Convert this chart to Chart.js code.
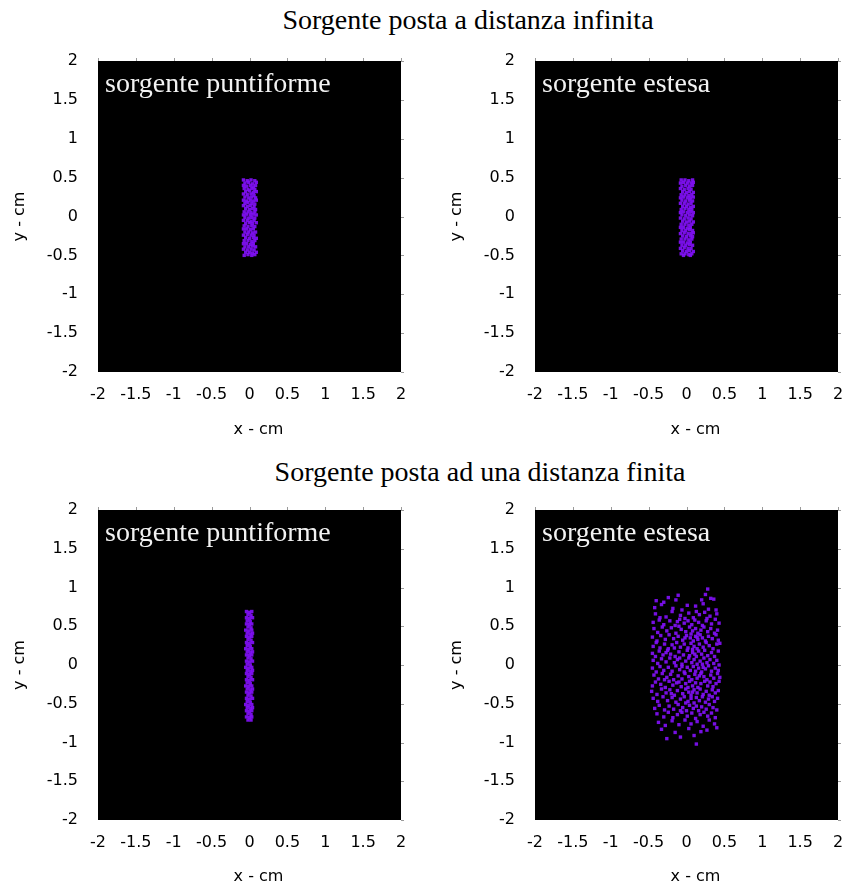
<!DOCTYPE html>
<html><head><meta charset="utf-8">
<script src="https://cdn.jsdelivr.net/npm/chart.js@4"></script>
<style>
body{margin:0;background:#fff;width:845px;height:888px;position:relative;overflow:hidden}
canvas{position:absolute}
.title{position:absolute;font-family:"Liberation Serif","DejaVu Serif",serif;font-size:28px;line-height:30px;color:#000;white-space:nowrap;transform:translateX(-50%)}
</style></head><body>
<div class="title" style="left:468px;top:5px">Sorgente posta a distanza infinita</div>
<div class="title" style="left:480px;top:457px">Sorgente posta ad una distanza finita</div>
<canvas id="c1" width="408" height="405" style="left:0;top:40px"></canvas>
<canvas id="c2" width="408" height="405" style="left:437px;top:40px"></canvas>
<canvas id="c3" width="408" height="399" style="left:0;top:489px"></canvas>
<canvas id="c4" width="408" height="399" style="left:437px;top:489px"></canvas>
<script>
const axisTicks = [-2, -1.5, -1, -0.5, 0, 0.5, 1, 1.5, 2];
const xTitle = 'x - cm';
const yTitle = 'y - cm';
const panelLabels = ['sorgente puntiforme', 'sorgente estesa', 'sorgente puntiforme', 'sorgente estesa'];

// Sorgente a distanza infinita, sorgente puntiforme
const infPoint = [
[-0.08,0.47],[-0.03,0.46],[0.02,0.47],[0.07,0.46],
[-0.06,0.43],[-0.01,0.44],[0.04,0.42],[0.09,0.44],
[-0.08,0.40],[-0.04,0.39],[0.01,0.40],[0.05,0.38],[0.08,0.40],
[-0.07,0.36],[-0.02,0.35],[0.03,0.36],[0.07,0.35],
[-0.05,0.32],[0.00,0.33],[0.05,0.31],[0.09,0.32],
[-0.08,0.29],[-0.03,0.28],[0.02,0.29],[0.06,0.27],
[-0.06,0.25],[-0.01,0.24],[0.03,0.25],[0.08,0.24],
[-0.08,0.21],[-0.04,0.20],[0.01,0.21],[0.05,0.20],[0.09,0.21],
[-0.06,0.17],[-0.02,0.18],[0.03,0.17],[0.07,0.16],
[-0.08,0.14],[-0.03,0.13],[0.01,0.14],[0.06,0.13],
[-0.05,0.10],[0.00,0.09],[0.04,0.10],[0.08,0.09],
[-0.07,0.06],[-0.02,0.06],[0.02,0.05],[0.07,0.06],
[-0.08,0.02],[-0.04,0.03],[0.01,0.02],[0.05,0.03],[0.09,0.02],
[-0.06,-0.01],[-0.01,-0.02],[0.03,-0.01],[0.07,-0.02],
[-0.08,-0.05],[-0.03,-0.05],[0.02,-0.06],[0.06,-0.05],
[-0.05,-0.09],[0.00,-0.08],[0.04,-0.09],[0.09,-0.08],
[-0.07,-0.12],[-0.02,-0.13],[0.03,-0.12],[0.07,-0.13],
[-0.08,-0.16],[-0.04,-0.16],[0.01,-0.17],[0.05,-0.16],
[-0.06,-0.20],[-0.01,-0.20],[0.04,-0.21],[0.08,-0.20],
[-0.08,-0.24],[-0.03,-0.23],[0.02,-0.24],[0.06,-0.24],
[-0.05,-0.27],[0.00,-0.28],[0.05,-0.27],[0.09,-0.28],
[-0.07,-0.31],[-0.02,-0.31],[0.03,-0.32],[0.07,-0.31],
[-0.08,-0.35],[-0.04,-0.35],[0.01,-0.36],[0.05,-0.35],
[-0.06,-0.39],[-0.01,-0.39],[0.04,-0.38],[0.08,-0.39],
[-0.08,-0.42],[-0.03,-0.43],[0.02,-0.42],[0.06,-0.43],
[-0.05,-0.46],[0.00,-0.46],[0.04,-0.47],[0.09,-0.46],
[-0.07,-0.50],[-0.02,-0.49],[0.03,-0.50],[0.07,-0.49]
];

// Sorgente a distanza infinita, sorgente estesa
const infExtended = [
[-0.07,0.47],[-0.02,0.47],[0.03,0.46],[0.08,0.47],
[-0.08,0.43],[-0.04,0.44],[0.01,0.43],[0.06,0.43],[0.09,0.44],
[-0.06,0.39],[-0.01,0.40],[0.04,0.39],[0.08,0.40],
[-0.08,0.36],[-0.03,0.35],[0.02,0.36],[0.06,0.35],
[-0.05,0.32],[0.00,0.31],[0.04,0.32],[0.09,0.31],
[-0.07,0.28],[-0.02,0.28],[0.03,0.27],[0.07,0.28],
[-0.08,0.24],[-0.04,0.25],[0.01,0.24],[0.05,0.24],[0.09,0.25],
[-0.06,0.21],[-0.01,0.20],[0.04,0.21],[0.08,0.20],
[-0.08,0.17],[-0.03,0.17],[0.02,0.16],[0.06,0.17],
[-0.05,0.13],[0.00,0.13],[0.05,0.12],[0.09,0.13],
[-0.07,0.09],[-0.02,0.10],[0.03,0.09],[0.07,0.09],
[-0.08,0.05],[-0.04,0.06],[0.01,0.05],[0.05,0.06],[0.09,0.05],
[-0.06,0.02],[-0.01,0.01],[0.04,0.02],[0.08,0.01],
[-0.08,-0.02],[-0.03,-0.03],[0.02,-0.02],[0.06,-0.03],
[-0.05,-0.06],[0.00,-0.07],[0.04,-0.06],[0.09,-0.07],
[-0.07,-0.10],[-0.02,-0.10],[0.03,-0.11],[0.07,-0.10],
[-0.08,-0.14],[-0.04,-0.14],[0.01,-0.15],[0.05,-0.14],
[-0.06,-0.18],[-0.01,-0.18],[0.04,-0.17],[0.08,-0.18],
[-0.08,-0.22],[-0.03,-0.21],[0.02,-0.22],[0.06,-0.22],[0.09,-0.21],
[-0.05,-0.25],[0.00,-0.26],[0.05,-0.25],[0.08,-0.26],
[-0.07,-0.29],[-0.02,-0.29],[0.03,-0.30],[0.07,-0.29],
[-0.08,-0.33],[-0.04,-0.33],[0.01,-0.34],[0.05,-0.33],
[-0.06,-0.37],[-0.01,-0.37],[0.04,-0.36],[0.08,-0.37],
[-0.08,-0.41],[-0.03,-0.40],[0.02,-0.41],[0.06,-0.41],
[-0.05,-0.44],[0.00,-0.45],[0.04,-0.44],[0.09,-0.45],
[-0.07,-0.48],[-0.02,-0.48],[0.03,-0.49],[0.07,-0.48],
[-0.04,-0.50],[0.05,-0.50]
];

// Sorgente a distanza finita, sorgente puntiforme
const finPoint = [
[-0.04,0.69],[0.00,0.68],[0.03,0.69],
[-0.02,0.65],[0.02,0.64],
[-0.04,0.61],[0.00,0.60],[0.04,0.61],
[-0.03,0.57],[0.01,0.56],
[-0.04,0.53],[0.00,0.52],[0.03,0.53],
[-0.02,0.49],[0.02,0.48],
[-0.05,0.45],[-0.01,0.44],[0.03,0.45],
[-0.03,0.41],[0.01,0.40],[0.04,0.41],
[-0.04,0.37],[0.00,0.36],[0.03,0.37],
[-0.02,0.33],[0.02,0.32],
[-0.04,0.29],[0.00,0.28],[0.04,0.29],
[-0.03,0.25],[0.01,0.24],
[-0.05,0.21],[-0.01,0.20],[0.03,0.21],
[-0.03,0.17],[0.01,0.16],[0.04,0.17],
[-0.04,0.13],[0.00,0.12],[0.03,0.13],
[-0.02,0.09],[0.02,0.08],
[-0.04,0.05],[0.00,0.04],[0.04,0.05],
[-0.03,0.01],[0.01,0.00],
[-0.05,-0.03],[-0.01,-0.04],[0.03,-0.03],
[-0.03,-0.07],[0.01,-0.08],[0.04,-0.07],
[-0.04,-0.11],[0.00,-0.12],[0.03,-0.11],
[-0.02,-0.15],[0.02,-0.16],
[-0.04,-0.19],[0.00,-0.20],[0.04,-0.19],
[-0.03,-0.23],[0.01,-0.24],
[-0.05,-0.27],[-0.01,-0.28],[0.03,-0.27],
[-0.03,-0.31],[0.01,-0.32],[0.04,-0.31],
[-0.04,-0.35],[0.00,-0.36],[0.03,-0.35],
[-0.02,-0.39],[0.02,-0.40],
[-0.04,-0.43],[0.00,-0.44],[0.04,-0.43],
[-0.03,-0.47],[0.01,-0.48],
[-0.05,-0.51],[-0.01,-0.52],[0.03,-0.51],
[-0.03,-0.55],[0.01,-0.56],[0.04,-0.55],
[-0.04,-0.59],[0.00,-0.60],[0.03,-0.59],
[-0.02,-0.63],[0.02,-0.64],
[-0.04,-0.67],[0.00,-0.68],[0.03,-0.67],
[-0.02,-0.71],[0.02,-0.71]
];

// Sorgente a distanza finita, sorgente estesa
const finExtended = [
[0.28,0.98],[-0.11,0.90],[0.25,0.91],
[-0.40,0.83],[-0.24,0.87],[-0.14,0.84],[0.32,0.86],[0.36,0.85],[0.20,0.84],[-0.30,0.81],
[-0.33,0.78],[-0.18,0.73],[0.01,0.77],[0.29,0.72],[0.39,0.71],[-0.42,0.74],[0.12,0.76],[-0.06,0.71],[0.22,0.79],
[-0.41,0.66],[-0.27,0.62],[-0.19,0.69],[-0.08,0.64],[0.03,0.67],[0.09,0.61],[0.17,0.65],[0.24,0.68],[0.31,0.63],[0.40,0.66],[-0.35,0.61],[-0.02,0.60],[0.13,0.69],[0.27,0.60],
[-0.44,0.55],[-0.36,0.58],[-0.30,0.52],[-0.22,0.57],[-0.15,0.51],[-0.09,0.59],[-0.03,0.54],[0.02,0.57],[0.07,0.52],[0.11,0.58],[0.16,0.55],[0.21,0.51],[0.26,0.57],[0.33,0.53],[0.38,0.59],[0.43,0.54],[-0.12,0.56],
[-0.43,0.47],[-0.38,0.42],[-0.32,0.49],[-0.26,0.44],[-0.20,0.48],[-0.14,0.41],[-0.07,0.46],[-0.01,0.43],[0.04,0.49],[0.08,0.44],[0.12,0.47],[0.15,0.41],[0.19,0.45],[0.23,0.49],[0.28,0.43],[0.32,0.47],[0.37,0.41],[0.41,0.45],[-0.10,0.50],[0.06,0.40],
[-0.45,0.36],[-0.39,0.31],[-0.34,0.38],[-0.28,0.33],[-0.23,0.39],[-0.17,0.34],[-0.11,0.37],[-0.05,0.32],[0.00,0.38],[0.05,0.35],[0.09,0.31],[0.12,0.37],[0.15,0.33],[0.18,0.39],[0.21,0.35],[0.25,0.31],[0.29,0.37],[0.34,0.34],[0.39,0.39],[0.42,0.32],[-0.02,0.35],[0.14,0.36],
[-0.44,0.24],[-0.40,0.29],[-0.35,0.22],[-0.29,0.27],[-0.24,0.21],[-0.19,0.26],[-0.13,0.29],[-0.08,0.23],[-0.03,0.27],[0.02,0.22],[0.06,0.28],[0.10,0.24],[0.14,0.21],[0.17,0.27],[0.22,0.23],[0.26,0.29],[0.30,0.25],[0.35,0.21],[0.40,0.27],[0.44,0.28],[-0.16,0.22],[0.08,0.20],
[-0.45,0.15],[-0.41,0.11],[-0.36,0.18],[-0.31,0.13],[-0.25,0.19],[-0.21,0.14],[-0.15,0.11],[-0.10,0.17],[-0.04,0.13],[0.01,0.19],[0.04,0.12],[0.08,0.16],[0.13,0.11],[0.16,0.18],[0.20,0.14],[0.24,0.19],[0.28,0.12],[0.33,0.16],[0.37,0.11],[0.42,0.18],[-0.27,0.16],[0.11,0.14],
[-0.44,0.06],[-0.38,0.02],[-0.33,0.08],[-0.27,0.04],[-0.22,0.09],[-0.16,0.03],[-0.12,0.07],[-0.06,0.01],[-0.01,0.05],[0.03,0.09],[0.07,0.03],[0.10,0.07],[0.14,0.01],[0.18,0.05],[0.23,0.09],[0.27,0.03],[0.31,0.07],[0.36,0.02],[0.40,0.06],[0.43,0.00],[-0.09,0.09],[0.21,0.01],
[-0.45,-0.04],[-0.40,-0.09],[-0.35,-0.02],[-0.30,-0.07],[-0.24,-0.03],[-0.19,-0.08],[-0.14,-0.01],[-0.09,-0.06],[-0.03,-0.09],[0.01,-0.03],[0.05,-0.07],[0.09,-0.02],[0.12,-0.08],[0.16,-0.04],[0.20,-0.09],[0.25,-0.05],[0.29,-0.01],[0.33,-0.08],[0.38,-0.04],[0.42,-0.07],[-0.06,-0.02],[0.22,-0.03],
[-0.43,-0.13],[-0.37,-0.18],[-0.32,-0.11],[-0.26,-0.16],[-0.21,-0.12],[-0.17,-0.19],[-0.11,-0.14],[-0.06,-0.18],[-0.02,-0.11],[0.03,-0.15],[0.07,-0.19],[0.11,-0.12],[0.14,-0.17],[0.19,-0.11],[0.23,-0.15],[0.27,-0.19],[0.32,-0.13],[0.36,-0.17],[0.41,-0.11],[0.44,-0.16],[-0.29,-0.19],[0.17,-0.14],
[-0.45,-0.27],[-0.41,-0.22],[-0.34,-0.25],[-0.28,-0.29],[-0.23,-0.21],[-0.18,-0.26],[-0.13,-0.23],[-0.07,-0.28],[-0.01,-0.24],[0.04,-0.21],[0.08,-0.27],[0.12,-0.23],[0.15,-0.29],[0.19,-0.24],[0.24,-0.21],[0.28,-0.27],[0.31,-0.22],[0.35,-0.28],[0.39,-0.24],[0.43,-0.21],[-0.10,-0.22],[0.02,-0.29],
[-0.46,-0.34],[-0.39,-0.38],[-0.33,-0.31],[-0.27,-0.36],[-0.22,-0.32],[-0.16,-0.39],[-0.12,-0.33],[-0.05,-0.37],[-0.01,-0.31],[0.03,-0.35],[0.06,-0.39],[0.10,-0.32],[0.14,-0.36],[0.18,-0.31],[0.22,-0.38],[0.26,-0.34],[0.30,-0.39],[0.34,-0.32],[0.38,-0.36],[0.42,-0.33],[-0.20,-0.37],[0.08,-0.35],
[-0.44,-0.43],[-0.38,-0.47],[-0.31,-0.41],[-0.25,-0.46],[-0.19,-0.42],[-0.14,-0.48],[-0.08,-0.44],[-0.03,-0.41],[0.02,-0.47],[0.06,-0.43],[0.10,-0.49],[0.13,-0.42],[0.17,-0.46],[0.21,-0.41],[0.25,-0.48],[0.29,-0.44],[0.34,-0.41],[0.37,-0.47],[0.41,-0.43],[-0.01,-0.49],
[-0.42,-0.56],[-0.36,-0.52],[-0.29,-0.58],[-0.23,-0.53],[-0.17,-0.57],[-0.11,-0.51],[-0.05,-0.55],[0.00,-0.59],[0.04,-0.52],[0.09,-0.56],[0.13,-0.53],[0.16,-0.59],[0.20,-0.54],[0.26,-0.57],[0.30,-0.51],[0.35,-0.55],[0.40,-0.58],[-0.08,-0.59],
[-0.39,-0.63],[-0.30,-0.67],[-0.24,-0.61],[-0.18,-0.68],[-0.12,-0.64],[-0.06,-0.61],[0.01,-0.66],[0.07,-0.62],[0.12,-0.69],[0.18,-0.64],[0.23,-0.61],[0.28,-0.66],[0.33,-0.62],[0.38,-0.68],
[-0.37,-0.74],[-0.28,-0.78],[-0.19,-0.72],[-0.10,-0.77],[-0.02,-0.71],[0.06,-0.76],[0.14,-0.73],[0.22,-0.79],[0.30,-0.71],[0.37,-0.76],
[-0.33,-0.83],[-0.15,-0.87],[0.03,-0.82],[0.19,-0.86],[0.27,-0.84],[0.40,-0.81],
[-0.08,-0.93],[0.10,-0.91],[-0.26,-0.95],[0.13,-1.02]
];

const POINT_COLOR = 'rgba(128,16,245,0.92)';

const decorPlugin = {
  id: 'panelDecor',
  beforeDraw(chart) {
    const a = chart.chartArea, ctx = chart.ctx;
    ctx.save();
    ctx.fillStyle = '#000';
    ctx.fillRect(a.left, a.top, a.right - a.left, a.bottom - a.top);
    ctx.restore();
  },
  afterDraw(chart, args, opts) {
    const a = chart.chartArea, ctx = chart.ctx;
    const xs = chart.scales.x, ys = chart.scales.y;
    ctx.save();
    ctx.strokeStyle = '#9a9a9a';
    ctx.lineWidth = 1;
    ctx.beginPath();
    axisTicks.forEach(v => {
      const px = Math.round(xs.getPixelForValue(v)) + 0.5;
      ctx.moveTo(px, a.top - 3); ctx.lineTo(px, a.top);
      const py = Math.round(ys.getPixelForValue(v)) + 0.5;
      ctx.moveTo(a.right, py); ctx.lineTo(a.right + 3, py);
    });
    ctx.stroke();
    // x axis title, slightly right of the plot centre as in the original
    ctx.fillStyle = '#000';
    ctx.font = '16px "DejaVu Sans"';
    ctx.textAlign = 'center';
    ctx.textBaseline = 'middle';
    ctx.fillText(xTitle, (a.left + a.right) / 2 + 9, a.bottom + opts.xTitleOffset);
    // panel label
    ctx.fillStyle = '#f2f2f2';
    ctx.font = '28px "Liberation Serif", "DejaVu Serif", serif';
    ctx.textBaseline = 'alphabetic';
    ctx.textAlign = 'left';
    ctx.fillText(opts.label, a.left + 7, a.top + 31);
    ctx.restore();
  }
};

function makePanel(id, points, label, row) {
  const xAxisH = row === 0 ? 70 : 66;
  const padBottom = row === 0 ? 3 : 2;
  const tickFont = { family: 'DejaVu Sans', size: 16 };
  new Chart(document.getElementById(id), {
    type: 'scatter',
    data: {
      datasets: [{
        data: points.map(p => ({ x: p[0], y: p[1] })),
        pointStyle: 'rect',
        pointRadius: 2.4,
        pointBorderWidth: 0,
        borderWidth: 0,
        backgroundColor: POINT_COLOR,
        borderColor: POINT_COLOR
      }]
    },
    options: {
      responsive: false,
      animation: false,
      events: [],
      layout: { padding: { left: 0, right: 7, top: 21, bottom: padBottom } },
      plugins: {
        legend: { display: false },
        tooltip: { enabled: false },
        panelDecor: { label: label, xTitleOffset: row === 0 ? 58 : 57 }
      },
      scales: {
        x: {
          type: 'linear', min: -2, max: 2,
          afterBuildTicks: s => { s.ticks = axisTicks.map(v => ({ value: v })); },
          afterFit: s => { s.height = xAxisH; s.paddingLeft = 0; s.paddingRight = 0; },
          grid: { display: false }, border: { display: false },
          ticks: { font: tickFont, color: '#000', padding: 5, maxRotation: 0, autoSkip: false, callback: v => String(v) },
          title: { display: false }
        },
        y: {
          type: 'linear', min: -2, max: 2,
          afterBuildTicks: s => { s.ticks = axisTicks.map(v => ({ value: v })); },
          afterFit: s => { s.width = 98; s.paddingTop = 0; s.paddingBottom = 0; },
          grid: { display: false }, border: { display: false },
          ticks: { font: tickFont, color: '#000', padding: 12, autoSkip: false, callback: v => String(v) },
          title: { display: true, text: yTitle, font: tickFont, color: '#000', padding: { top: 10, bottom: 0 } }
        }
      }
    },
    plugins: [decorPlugin]
  });
}

makePanel('c1', infPoint, panelLabels[0], 0);
makePanel('c2', infExtended, panelLabels[1], 0);
makePanel('c3', finPoint, panelLabels[2], 1);
makePanel('c4', finExtended, panelLabels[3], 1);
</script>
</body></html>
